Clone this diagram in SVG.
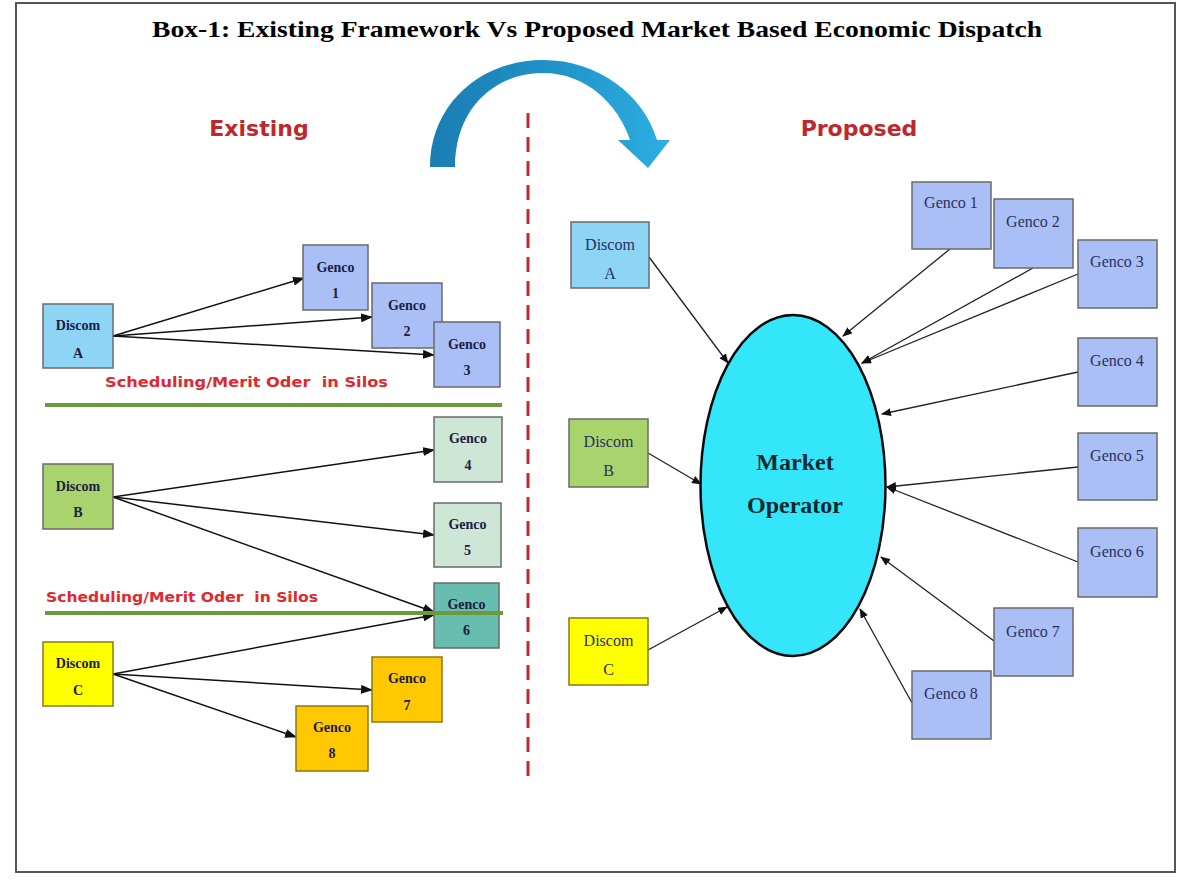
<svg xmlns="http://www.w3.org/2000/svg" width="1200" height="891" viewBox="0 0 1200 891">
<style>
.title{font-family:"Liberation Serif","Times New Roman",serif;font-weight:bold;font-size:24px;fill:#000}
.head{font-family:"DejaVu Sans",Verdana,sans-serif;font-weight:bold;font-size:22px;fill:#c0272d}
.silo{font-family:"DejaVu Sans",Verdana,sans-serif;font-weight:bold;font-size:14px;fill:#e0282e;white-space:pre}
.lt{font-family:"Liberation Serif","Times New Roman",serif;font-weight:bold;font-size:14px;fill:#1a2040;text-anchor:middle}
.rt{font-family:"Liberation Serif","Times New Roman",serif;font-size:16px;fill:#283060;text-anchor:middle}
.mo{font-family:"Liberation Serif","Times New Roman",serif;font-weight:bold;font-size:24px;fill:#0a2a30;text-anchor:middle}
.box{stroke:#6a6a6a;stroke-width:1.5}
.ybox{stroke:#8a7a10;stroke-width:1.5}
.discA{fill:#8dd4f5}.discB{fill:#a9d46d}.discC{fill:#ffff00}
.gen{fill:#abbff7}.mint{fill:#cde6d6}.teal{fill:#66bdb0}.orange{fill:#ffc800}
.conn{stroke:#111;stroke-width:1.5;fill:none;marker-end:url(#ah)}
.conn2{stroke:#222;stroke-width:1.3;fill:none;marker-end:url(#ah2)}
.sep{stroke:#6b9a3a;stroke-width:4}
</style>
<defs>
<marker id="ah" markerUnits="userSpaceOnUse" markerWidth="12" markerHeight="9" refX="11" refY="4.5" orient="auto"><path d="M0,0 L12,4.5 L0,9 z" fill="#111"/></marker>
<marker id="ah2" markerUnits="userSpaceOnUse" markerWidth="10" markerHeight="8" refX="9" refY="4" orient="auto"><path d="M0,0 L10,4 L0,8 z" fill="#111"/></marker>
<linearGradient id="blue" x1="0" y1="0" x2="1" y2="0"><stop offset="0" stop-color="#1a7db3"/><stop offset="0.5" stop-color="#1f92c8"/><stop offset="1" stop-color="#2eaee2"/></linearGradient>
</defs>
<rect x="0" y="0" width="1200" height="891" fill="#fff"/>
<rect x="16" y="3" width="1159" height="869" fill="none" stroke="#555" stroke-width="2"/>
<text class="title" x="597" y="37" text-anchor="middle" textLength="890" lengthAdjust="spacingAndGlyphs">Box-1: Existing Framework Vs Proposed Market Based Economic Dispatch</text>
<path d="M430,167 C430,105 480,60 543,60 C598,60 644,95 657,140 L670,140 L648,168 L618,140 L630,140 C618,104 586,73 543,73 C495,73 455,108 455,167 Z" fill="url(#blue)"/>
<text class="head" x="259" y="136" text-anchor="middle">Existing</text>
<text class="head" x="859" y="136" text-anchor="middle">Proposed</text>
<line x1="528" y1="113" x2="528" y2="777" stroke="#c0282d" stroke-width="3" stroke-dasharray="15,9"/>

<g id="connectors">
<line class="conn" x1="113" y1="336" x2="304" y2="278"/>
<line class="conn" x1="113" y1="336" x2="372" y2="317"/>
<line class="conn" x1="113" y1="336" x2="434" y2="355"/>
<line class="conn" x1="113" y1="497" x2="434" y2="450"/>
<line class="conn" x1="113" y1="497" x2="434" y2="535"/>
<line class="conn" x1="113" y1="497" x2="434" y2="612"/>
<line class="conn" x1="113" y1="674" x2="434" y2="615"/>
<line class="conn" x1="113" y1="674" x2="372" y2="690"/>
<line class="conn" x1="113" y1="674" x2="296" y2="737"/>
<line class="conn2" x1="649" y1="257" x2="728" y2="363"/>
<line class="conn2" x1="648" y1="453" x2="701" y2="484"/>
<line class="conn2" x1="648" y1="650" x2="727" y2="607"/>
<line class="conn2" x1="950" y1="249" x2="843" y2="336"/>
<line class="conn2" x1="1033" y1="268" x2="862" y2="363"/>
<line class="conn2" x1="1078" y1="274" x2="862" y2="363"/>
<line class="conn2" x1="1078" y1="372" x2="882" y2="414"/>
<line class="conn2" x1="1078" y1="467" x2="887" y2="487"/>
<line class="conn2" x1="1078" y1="562" x2="887" y2="487"/>
<line class="conn2" x1="994" y1="641" x2="881" y2="557"/>
<line class="conn2" x1="912" y1="703" x2="860" y2="609"/>
</g>

<g id="ex-discom-a"><rect class="box discA" x="43" y="304" width="70" height="64"/><text class="lt" x="78" y="330">Discom</text><text class="lt" x="78" y="358">A</text></g>
<g id="ex-genco-1"><rect class="box gen" x="303" y="245" width="65" height="65"/><text class="lt" x="335.5" y="272">Genco</text><text class="lt" x="335.5" y="298">1</text></g>
<g id="ex-genco-2"><rect class="box gen" x="372" y="283" width="70" height="65"/><text class="lt" x="407" y="310">Genco</text><text class="lt" x="407" y="336">2</text></g>
<g id="ex-genco-3"><rect class="box gen" x="434" y="322" width="66" height="65"/><text class="lt" x="467" y="349">Genco</text><text class="lt" x="467" y="375">3</text></g>
<g id="ex-discom-b"><rect class="box discB" x="43" y="464" width="70" height="65"/><text class="lt" x="78" y="491">Discom</text><text class="lt" x="78" y="517">B</text></g>
<g id="ex-genco-4"><rect class="box mint" x="434" y="417" width="68" height="65"/><text class="lt" x="468" y="443">Genco</text><text class="lt" x="468" y="470">4</text></g>
<g id="ex-genco-5"><rect class="box mint" x="434" y="503" width="67" height="64"/><text class="lt" x="467.5" y="529">Genco</text><text class="lt" x="467.5" y="555">5</text></g>
<g id="ex-genco-6"><rect class="box teal" x="434" y="583" width="65" height="65"/><text class="lt" x="466.5" y="609">Genco</text><text class="lt" x="466.5" y="635">6</text></g>
<g id="ex-discom-c"><rect class="ybox discC" x="43" y="642" width="70" height="64"/><text class="lt" x="78" y="668">Discom</text><text class="lt" x="78" y="695">C</text></g>
<g id="ex-genco-7"><rect class="ybox orange" x="372" y="657" width="70" height="65"/><text class="lt" x="407" y="683">Genco</text><text class="lt" x="407" y="710">7</text></g>
<g id="ex-genco-8"><rect class="ybox orange" x="296" y="706" width="72" height="65"/><text class="lt" x="332" y="732">Genco</text><text class="lt" x="332" y="758">8</text></g>

<text class="silo" x="105" y="387" textLength="283" lengthAdjust="spacingAndGlyphs" xml:space="preserve">Scheduling/Merit Oder  in Silos</text>
<line class="sep" x1="45" y1="405" x2="502" y2="405"/>
<text class="silo" x="46" y="602" textLength="272" lengthAdjust="spacingAndGlyphs" xml:space="preserve">Scheduling/Merit Oder  in Silos</text>
<line class="sep" x1="45" y1="613" x2="503" y2="613"/>

<g id="market-operator"><ellipse cx="793" cy="485.5" rx="92.5" ry="170.5" fill="#33e6fa" stroke="#0a0a0a" stroke-width="2.5"/><text class="mo" x="795" y="470">Market</text><text class="mo" x="795" y="513">Operator</text></g>
<g id="pr-discom-a"><rect class="box discA" x="571" y="222" width="78" height="66"/><text class="rt" x="610" y="250">Discom</text><text class="rt" x="610" y="279">A</text></g>
<g id="pr-discom-b"><rect class="box discB" x="569" y="419" width="79" height="68"/><text class="rt" x="608.5" y="447">Discom</text><text class="rt" x="608.5" y="476">B</text></g>
<g id="pr-discom-c"><rect class="ybox discC" x="569" y="618" width="79" height="67"/><text class="rt" x="608.5" y="646">Discom</text><text class="rt" x="608.5" y="675">C</text></g>
<g id="pr-genco-1"><rect class="box gen" x="912" y="182" width="79" height="67"/><text class="rt" x="951" y="208">Genco 1</text></g>
<g id="pr-genco-2"><rect class="box gen" x="994" y="199" width="79" height="69"/><text class="rt" x="1033" y="227">Genco 2</text></g>
<g id="pr-genco-3"><rect class="box gen" x="1078" y="240" width="79" height="68"/><text class="rt" x="1117" y="267">Genco 3</text></g>
<g id="pr-genco-4"><rect class="box gen" x="1078" y="338" width="79" height="68"/><text class="rt" x="1117" y="366">Genco 4</text></g>
<g id="pr-genco-5"><rect class="box gen" x="1078" y="433" width="79" height="67"/><text class="rt" x="1117" y="461">Genco 5</text></g>
<g id="pr-genco-6"><rect class="box gen" x="1078" y="528" width="79" height="69"/><text class="rt" x="1117" y="557">Genco 6</text></g>
<g id="pr-genco-7"><rect class="box gen" x="994" y="608" width="79" height="68"/><text class="rt" x="1033" y="637">Genco 7</text></g>
<g id="pr-genco-8"><rect class="box gen" x="912" y="671" width="79" height="68"/><text class="rt" x="951" y="699">Genco 8</text></g>
</svg>
